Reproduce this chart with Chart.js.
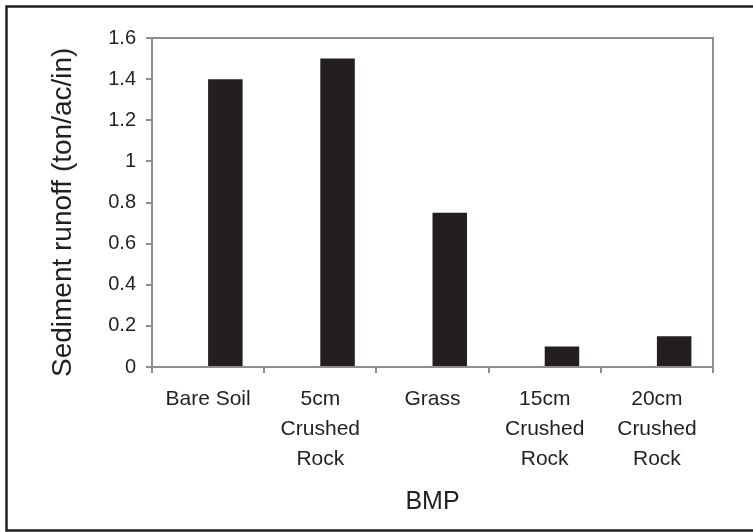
<!DOCTYPE html>
<html>
<head>
<meta charset="utf-8">
<script src="https://cdn.jsdelivr.net/npm/chart.js@4.4.1/dist/chart.umd.min.js"></script>
<style>
  html, body { margin: 0; padding: 0; background: #ffffff; overflow: hidden; }
  #wrap { position: relative; width: 753px; height: 532px; }
</style>
</head>
<body>
<div id="wrap"><canvas id="c" width="753" height="532"></canvas></div>
<script>
const categories = [
  'Bare Soil',
  ['5cm', 'Crushed', 'Rock'],
  'Grass',
  ['15cm', 'Crushed', 'Rock'],
  ['20cm', 'Crushed', 'Rock']
];
const emptySeries = [null, null, null, null, null];
const sedimentRunoff = [1.4, 1.5, 0.75, 0.1, 0.15];
const yTickLabels = ['0', '0.2', '0.4', '0.6', '0.8', '1', '1.2', '1.4', '1.6'];
const yTitle = 'Sediment runoff (ton/ac/in)';
const xTitle = 'BMP';

const FONT = "'Liberation Sans', Arial, sans-serif";
const AXIS_GRAY = '#8e8e8e';
const INK = '#231f20';

const framePlugin = {
  id: 'frame',
  afterDraw(chart) {
    const ctx = chart.ctx;
    const a = chart.chartArea;
    ctx.save();
    ctx.strokeStyle = AXIS_GRAY;
    ctx.lineWidth = 2;
    ctx.beginPath();
    ctx.moveTo(a.left, a.top);
    ctx.lineTo(a.right, a.top);
    ctx.lineTo(a.right, a.bottom);
    ctx.stroke();
    ctx.strokeStyle = INK;
    ctx.lineWidth = 2.5;
    ctx.beginPath();
    ctx.moveTo(760, 6.5);
    ctx.lineTo(6.5, 6.5);
    ctx.lineTo(6.5, 530.5);
    ctx.lineTo(760, 530.5);
    ctx.stroke();
    ctx.restore();
  }
};

new Chart(document.getElementById('c'), {
  type: 'bar',
  data: {
    labels: categories,
    datasets: [
      { label: 'spacer', data: emptySeries, backgroundColor: INK },
      { label: 'Sediment runoff', data: sedimentRunoff, backgroundColor: INK, borderWidth: 0 }
    ]
  },
  options: {
    responsive: false,
    animation: false,
    devicePixelRatio: 1,
    categoryPercentage: 0.615,
    barPercentage: 1.0,
    layout: { padding: { top: 38, right: 40, left: 0, bottom: 0 } },
    plugins: {
      legend: { display: false },
      tooltip: { enabled: false },
      title: { display: false }
    },
    scales: {
      x: {
        offset: true,
        grid: {
          display: true,
          offset: true,
          drawOnChartArea: false,
          drawTicks: true,
          tickLength: 6,
          color: AXIS_GRAY,
          lineWidth: 2
        },
        border: { display: true, color: AXIS_GRAY, width: 2 },
        ticks: {
          color: INK,
          font: { family: FONT, size: 21, lineHeight: '30px' },
          padding: 11,
          maxRotation: 0,
          autoSkip: false
        },
        title: {
          display: true,
          text: xTitle,
          color: INK,
          font: { family: FONT, size: 25 },
          padding: { top: 0, bottom: 15 }
        },
        afterFit(scale) { scale.height = 532 - 367; }
      },
      y: {
        min: 0,
        max: 1.6,
        ticks: {
          stepSize: 0.2,
          color: INK,
          font: { family: FONT, size: 20 },
          padding: 10,
          callback: (v, i) => yTickLabels[i]
        },
        grid: {
          display: true,
          drawOnChartArea: false,
          drawTicks: true,
          tickLength: 6,
          color: AXIS_GRAY,
          lineWidth: 2
        },
        border: { display: true, color: AXIS_GRAY, width: 2 },
        title: {
          display: true,
          text: yTitle + '\u2002\u2009',
          color: INK,
          font: { family: FONT, size: 28 },
          padding: { top: 46, bottom: 0 }
        },
        afterFit(scale) { scale.width = 152; }
      }
    }
  },
  plugins: [framePlugin]
});
</script>
</body>
</html>
